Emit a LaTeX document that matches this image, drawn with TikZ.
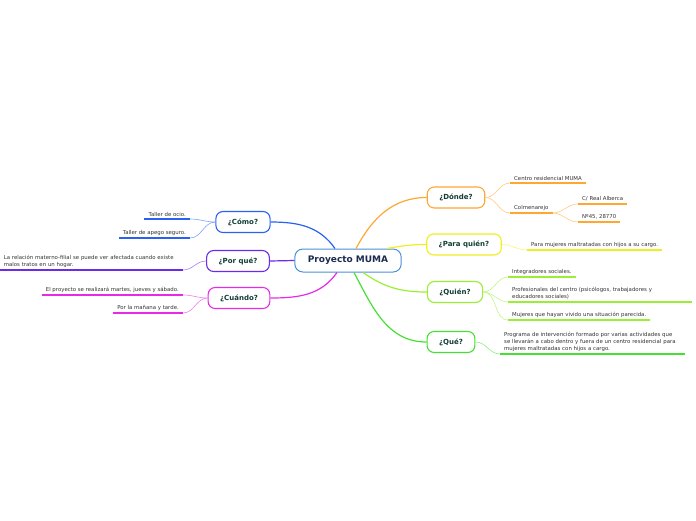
\documentclass[tikz,border=0pt]{standalone}
\usepackage{fontspec}
\setmainfont{DejaVu Sans}
\usepackage{xcolor}
\usepackage{tikz}
\usetikzlibrary{positioning}
\definecolor{rootline}{HTML}{4A90D9}
\definecolor{rootink}{HTML}{1C2B4F}
\definecolor{subink}{HTML}{123D35}
\definecolor{leafink}{HTML}{333333}
\definecolor{cComo}{HTML}{2962F0}
\definecolor{cPorque}{HTML}{6A2BEA}
\definecolor{cCuando}{HTML}{E52BE5}
\definecolor{cDonde}{HTML}{FFA733}
\definecolor{cPara}{HTML}{EEEE22}
\definecolor{cQuien}{HTML}{9AEE33}
\definecolor{cQue}{HTML}{44E033}
\tikzset{
  root/.style={
    draw=rootline, fill=white, rounded corners=8pt, line width=1pt,
    inner xsep=13pt, minimum height=23pt,
    font=\fontsize{9}{11}\selectfont\bfseries\color{rootink}},
  topic/.style={
    draw=#1, fill=white, rounded corners=7pt, line width=1.1pt,
    inner xsep=12pt, minimum height=21pt,
    font=\fontsize{7}{9}\selectfont\bfseries\color{subink}},
  leaf/.style={
    inner xsep=4pt, inner ysep=2.5pt, align=left,
    font=\fontsize{5.4}{7}\selectfont\color{leafink}},
  branch/.style={draw=#1, line width=1.2pt},
  twig/.style={draw=#1!60, line width=0.6pt},
  uline/.style={draw=#1, line width=1.6pt},
}

\begin{document}
\begin{tikzpicture}[x=1pt, y=-1pt]
  \useasboundingbox (0,0) rectangle (696,520);

  % centre and main topics
  \node[root] (root) at (348,260.5) {Proyecto MUMA};
  \node[topic=cDonde] (donde) at (456,197.5) {¿Dónde?};
  \node[topic=cPara] (paraquien) at (464,244.5) {¿Para quién?};
  \node[topic=cQuien] (quien) at (455,292) {¿Quién?};
  \node[topic=cQue] (que) at (451,342) {¿Qué?};
  \node[topic=cComo] (como) at (243,222) {¿Cómo?};
  \node[topic=cPorque] (porque) at (238,261) {¿Por qué?};
  \node[topic=cCuando] (cuando) at (239,298) {¿Cuándo?};

  % right side leaves
  \node[leaf, anchor=south west] (centro) at (510,183) {Centro residencial MUMA};
  \node[leaf, anchor=south west] (colm) at (510,213) {Colmenarejo};
  \node[leaf, anchor=south west] (calle) at (578,204) {C/ Real Alberca};
  \node[leaf, anchor=south west] (numero) at (578,222) {Nº45, 28770};
  \node[leaf, anchor=south west] (mujeres) at (527,250) {Para mujeres maltratadas con hijos a su cargo.};
  \node[leaf, anchor=south west] (integ) at (508,277) {Integradores sociales.};
  \node[leaf, anchor=south west, text width=176pt] (prof) at (508,302)
    {Profesionales del centro (psicólogos, trabajadores y\\ educadores sociales)};
  \node[leaf, anchor=south west] (vivido) at (508,320) {Mujeres que hayan vivido una situación parecida.};
  \node[leaf, anchor=south west, text width=177pt] (programa) at (500,354)
    {Programa de intervención formado por varias actividades que\\
     se llevarán a cabo dentro y fuera de un centro residencial para\\
     mujeres maltratadas con hijos a cargo.};

  % left side leaves
  \node[leaf, anchor=south east] (ocio) at (190,219) {Taller de ocio.};
  \node[leaf, anchor=south east] (apego) at (190,238) {Taller de apego seguro.};
  \node[leaf, anchor=south east, text width=175pt] (relacion) at (183,270)
    {La relación materno-filial se puede ver afectada cuando existe\\ malos tratos en un hogar.};
  \node[leaf, anchor=south east] (dias) at (183,295) {El proyecto se realizará martes, jueves y sábado.};
  \node[leaf, anchor=south east] (horario) at (183,313) {Por la mañana y tarde.};

  % main branches
  \draw[branch=cDonde] ([xshift=8pt]root.north) to[out=62,in=180] (donde.west);
  \draw[branch=cPara] ([xshift=39pt]root.north) to[out=10,in=180] (paraquien.west);
  \draw[branch=cQuien] ([xshift=15pt]root.south) to[out=-35,in=180] (quien.west);
  \draw[branch=cQue] ([xshift=6pt]root.south) to[out=-62,in=180] (que.west);
  \draw[branch=cComo] ([xshift=-13pt]root.north) to[out=125,in=0] (como.east);
  \draw[branch=cPorque] (root.west) -- (porque.east);
  \draw[branch=cCuando] ([xshift=-11pt]root.south) to[out=235,in=0] (cuando.east);

  % twigs to the leaves
  \foreach \n in {centro,colm}
    \draw[twig=cDonde] (donde.east) to[out=0,in=180] (\n.south west);
  \foreach \n in {calle,numero}
    \draw[twig=cDonde] (colm.south east) to[out=0,in=180] (\n.south west);
  \draw[twig=cPara] (paraquien.east) to[out=0,in=180] (mujeres.south west);
  \foreach \n in {integ,prof,vivido}
    \draw[twig=cQuien] (quien.east) to[out=0,in=180] (\n.south west);
  \draw[twig=cQue] (que.east) to[out=0,in=180] (programa.south west);
  \foreach \n in {ocio,apego}
    \draw[twig=cComo] (como.west) to[out=180,in=0] (\n.south east);
  \draw[twig=cPorque] (porque.west) to[out=180,in=0] (relacion.south east);
  \foreach \n in {dias,horario}
    \draw[twig=cCuando] (cuando.west) to[out=180,in=0] (\n.south east);

  % underlines
  \foreach \n/\c in {centro/cDonde, colm/cDonde, calle/cDonde, numero/cDonde,
      mujeres/cPara, integ/cQuien, prof/cQuien, vivido/cQuien, programa/cQue,
      ocio/cComo, apego/cComo, relacion/cPorque, dias/cCuando, horario/cCuando}
    \draw[uline=\c] (\n.south west) -- (\n.south east);
\end{tikzpicture}
\end{document}
